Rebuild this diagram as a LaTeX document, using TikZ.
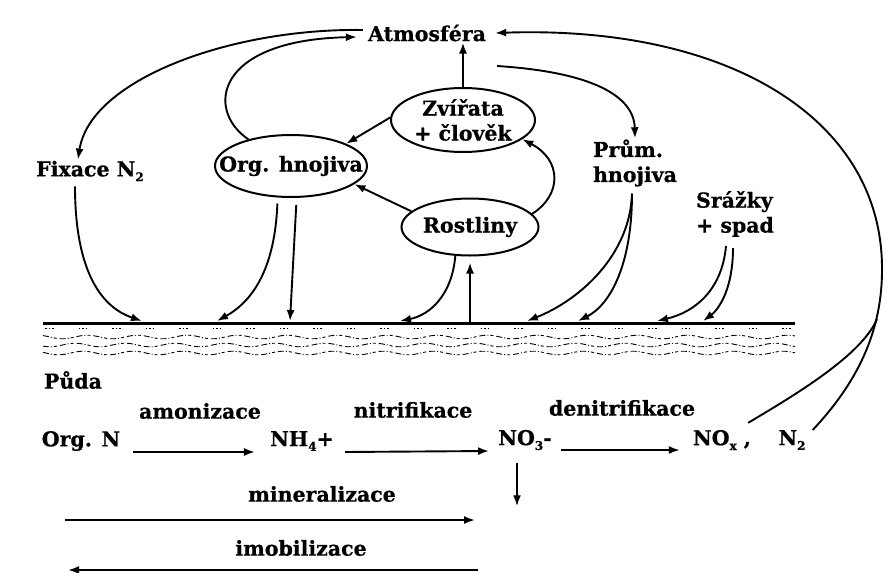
\documentclass[tikz,border=0pt]{standalone}
\usepackage{fontspec}
\setmainfont{DejaVu Serif}[BoldFeatures={FakeBold=0.7}]
\usetikzlibrary{shapes.geometric,arrows.meta,calc}
\newcommand\mysub[1]{\raisebox{-0.45ex}{\fontsize{12}{12}\selectfont #1}}
\begin{document}
\begin{tikzpicture}[x=1pt,y=-1pt,
  lbl/.style={font=\bfseries\fontsize{20.5}{25}\selectfont, inner sep=1pt},
  ell/.style={ellipse, draw, line width=2pt, inner sep=0pt},
  arr/.style={-{Latex[length=11pt,width=8pt]}, line width=1.9pt},
  soilw/.style={line width=0.9pt, dash pattern=on 6pt off 2pt on 1pt off 2pt on 3pt off 3pt}]
\useasboundingbox (0,0) rectangle (884,573);
\fill[white] (0,0) rectangle (884,573);
% nodes
\node[lbl] (atm) at (427,33) {Atmosféra};
\node[ell, minimum width=144pt, minimum height=64pt] (zv) at (463,120) {};
\node[lbl, align=center] (zvT) at (zv) {Zvířata\\+ člověk};
\node[ell, minimum width=152pt, minimum height=62pt] (org) at (291,166) {};
\node[lbl] (orgT) at (org) {Org. hnojiva};
\node[ell, minimum width=137pt, minimum height=57pt] (ros) at (470,227) {};
\node[lbl] (rosT) at (ros) {Rostliny};
\node[lbl] (fix) at (90,171) {Fixace N\mysub{2}};
\node[lbl, align=left] (prum) at (635,163) {Prům.\\hnojiva};
\node[lbl, align=left] (sraz) at (735,214) {Srážky\\+ spad};
\node[lbl] (puda) at (73,380) {Půda};
\node[lbl] (amon) at (200,411) {amonizace};
\node[lbl] (nitr) at (413,410) {nitrifikace};
\node[lbl] (denit) at (622,408) {denitrifikace};
\node[lbl] (orgN) at (81,441) {Org. N};
\node[lbl] (nh4) at (302,441) {NH\mysub{4}+};
\node[lbl] (no3) at (525,440) {NO\mysub{3}-};
\node[lbl] (nox) at (722,440) {NO\mysub{x} ,};
\node[lbl] (n2) at (792,440) {N\mysub{2}};
\node[lbl] (mine) at (322,494) {mineralizace};
\node[lbl] (imob) at (301,548) {imobilizace};
% soil
\coordinate (sL) at (43,323);
\coordinate (sR) at (795,323);
\coordinate (s1) at (142,321);
\coordinate (s2) at (217,321);
\coordinate (s3) at (290,321);
\coordinate (s4) at (400,321);
\coordinate (s5) at (470,323);
\coordinate (s6) at (527,321);
\coordinate (s7) at (578,321);
\coordinate (s8) at (657,321);
\coordinate (s9) at (703,321);
\draw[line width=3pt] (sL) -- (sR);
\draw[line width=1pt, dash pattern=on 1.5pt off 2pt on 1.5pt off 2pt on 1.5pt off 25pt] (45,328) -- (795,328);
\foreach \yy/\ph in {337/0,345/90,353/30}
  \draw[soilw] plot[domain=43:795,samples=300] (\x,{\yy+1.8*sin(7.2*\x+\ph)});
% connectors
\draw[arr] ([shift={(-4,-3)}]atm.west) .. controls (230,28) and (90,80) .. ([xshift=-12pt]fix.north);
\draw[arr] (org.148) .. controls (205,110) and (215,40) .. ([shift={(-10,4)}]atm.west);
\draw[arr] ([shift={(10,33)}]atm.east) .. controls (590,72) and (634,95) .. (prum.north);
\draw[arr] (zv.north) -- (zv.north |- atm.south);
\draw[arr] (zv.178) -- (org.22);
\draw[arr] (ros.165) -- (org.-16);
\draw[arr] (ros.12) .. controls (562,195) and (562,160) .. (zv.-18);
\draw[arr] (ros.-117) .. controls (452,295) and (430,315) .. (s4);
\draw[arr, shorten >=6pt] (s5) -- (ros.south);
\draw[arr, shorten <=6pt] (org.247) .. controls (275,265) and (255,300) .. (s2);
\draw[arr, shorten <=7pt] (org.-80) -- (s3);
\draw[arr] ([shift={(-15,4)}]fix.south) .. controls (75,260) and (95,305) .. (s1);
\draw[arr] ([shift={(-3,6)}]prum.south) .. controls (630,255) and (580,300) .. (s6);
\draw[arr] ([shift={(-3,6)}]prum.south) .. controls (632,265) and (610,305) .. (s7);
\draw[arr] ([shift={(-9,8)}]sraz.south) .. controls (722,290) and (695,312) .. (s8);
\draw[arr] ([shift={(-2,10)}]sraz.south) .. controls (733,290) and (718,310) .. (s9);
\coordinate (merge) at (877,319);
\draw[arr] ([shift={(6,-10)}]n2.east) .. controls (850,390) and (882,340) .. (882,270)
   .. controls (883,120) and (730,25) .. ([xshift=8pt]atm.east);
\draw[line width=1.9pt] ([shift={(-4,-6)}]nox.north east) .. controls (795,395) and (862,355) .. (merge);
% bottom reactions
\draw[arr] ([shift={(12,11)}]orgN.east) -- ([shift={(-14,11)}]nh4.west);
\draw[arr] ([shift={(10,11)}]nh4.east) -- ([shift={(-8,11)}]no3.west);
\draw[arr] ([shift={(8,10)}]no3.east) -- ([shift={(-12,10)}]nox.west);
\draw[arr] ([shift={(-8,12)}]no3.south) -- ([shift={(-8,55)}]no3.south);
\coordinate (m1) at (65,520);
\coordinate (m2) at (475,520);
\coordinate (i1) at (478,570);
\coordinate (i2) at (68,570);
\draw[arr] (m1) -- (m2);
\draw[arr] (i1) -- (i2);
\end{tikzpicture}
\end{document}
